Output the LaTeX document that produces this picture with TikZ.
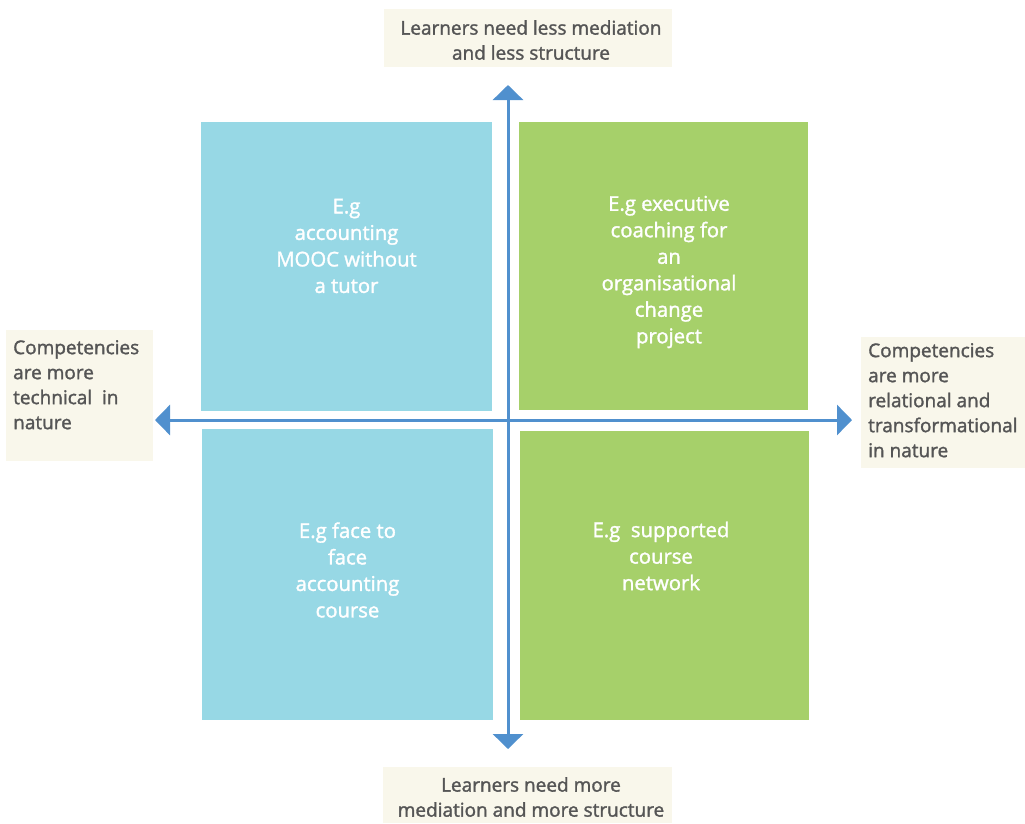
\documentclass[tikz,border=0pt]{standalone}
\usepackage{fontspec}
\setmainfont{Open Sans}
\newfontfamily\medfont{Open Sans}[FakeBold=1.6]
\usetikzlibrary{arrows.meta}
\definecolor{qblue}{HTML}{97D8E5}
\definecolor{qgreen}{HTML}{A6D06A}
\definecolor{lblbg}{HTML}{F9F7EB}
\definecolor{axis}{HTML}{5090CE}
\definecolor{txt}{HTML}{555555}
\begin{document}
\begin{tikzpicture}[x=1pt,y=-1pt,
  qtext/.style={text=white, align=center, font=\medfont\fontsize{20.3}{26.5}\selectfont},
  lbl/.style={text=txt, font=\medfont\fontsize{19}{25}\selectfont},
  axisline/.style={draw=axis, line width=3pt, -{Triangle[width=30pt,length=15pt]}}
]
\useasboundingbox (0,0) rectangle (1025,823);
% quadrant boxes
\fill[qblue] (201,122) rectangle (492,411);
\fill[qblue] (202,429) rectangle (493,720);
\fill[qgreen] (519,122) rectangle (808,410);
\fill[qgreen] (520,431) rectangle (809,720);
\node[qtext] (tl) at (346.5,246) {E.g\\accounting\\MOOC without\\a tutor};
\node[qtext] (tr) at (669,272) {E.g executive\\coaching for\\an\\organisational\\change\\project};
\node[qtext] (bl) at (347.5,570) {E.g face to\\face\\accounting\\course};
\node[qtext] (br) at (661,556) {E.g\ \ supported\\course\\network};
% label boxes
\fill[lblbg] (384,9) rectangle (672,67);
\fill[lblbg] (6,330) rectangle (153,461);
\fill[lblbg] (861,337) rectangle (1025,468);
\fill[lblbg] (383,767) rectangle (672,823);
\node[lbl, align=center] (top) at (531,40) {Learners need less mediation\\and less structure};
\node[lbl, align=center] (bot) at (531,797) {Learners need more\\mediation and more structure};
\node[lbl, align=left, anchor=north west, inner sep=0pt] (left) at (13,340) {Competencies\\are more\\technical\ \ in\\nature};
\node[lbl, align=left, anchor=north west, inner sep=0pt] (right) at (868,343) {Competencies\\are more\\relational and\\transformational\\in nature};
% axes
\coordinate (c) at (508,420);
\coordinate (n) at (508,85);
\coordinate (s) at (508,749);
\coordinate (w) at (155,420);
\coordinate (e) at (852,420);
\draw[axisline] (c) -- (n);
\draw[axisline] (c) -- (s);
\draw[axisline] (c) -- (w);
\draw[axisline] (c) -- (e);
\end{tikzpicture}
\end{document}
